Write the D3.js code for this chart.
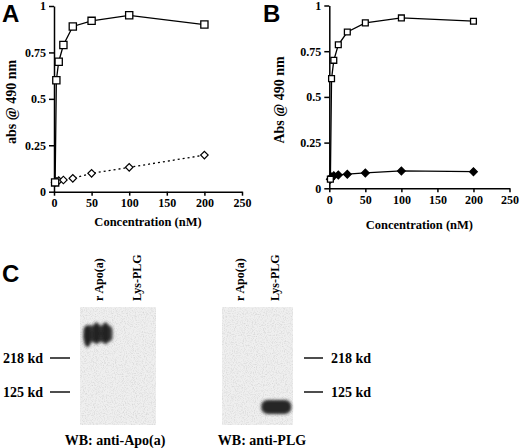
<!DOCTYPE html>
<html>
<head>
<meta charset="utf-8">
<script src="https://cdn.jsdelivr.net/npm/d3@7"></script>
<style>
  body { margin: 0; background: #fff; }
  svg text { font-family: "Liberation Serif", "Times New Roman", serif; font-weight: bold; fill: #000; }
  .letter { font-family: "Liberation Sans", Arial, sans-serif; font-size: 24px; }
  .axis path, .axis line { stroke: #000; stroke-width: 1.5; }
  .axis text { font-size: 12px; }
</style>
</head>
<body>
<div class="chart"></div>
<script>
// ---- data ----
var conc = [1.5, 3.125, 6.25, 12.5, 25, 50, 100, 200];
var absA_open = [0.05, 0.60, 0.70, 0.79, 0.89, 0.92, 0.95, 0.90];
var absA_diamond = [0.05, 0.055, 0.06, 0.063, 0.072, 0.099, 0.131, 0.197];
var absB_open = [0.05, 0.60, 0.70, 0.785, 0.855, 0.905, 0.932, 0.914];
var absB_filled = [0.05, 0.062, 0.069, 0.073, 0.077, 0.084, 0.095, 0.091];
var xTicks = [0, 50, 100, 150, 200, 250];
var yTicks = [0, 0.25, 0.5, 0.75, 1];
var yTickLabels = [`0`, `0.25`, `0.5`, `0.75`, `1`];

var lanes = [`r Apo(a)`, `Lys-PLG`];
var markerKd = [218, 125];
var markerLabels = [`218 kd`, `125 kd`];
var blotTitles = [`WB: anti-Apo(a)`, `WB: anti-PLG`];
var bandBlot = [0, 1];
var bandLane = [`r Apo(a)`, `Lys-PLG`];
var bandKd = [322, 98];

var fullWidth = 520, fullHeight = 448;

var svg = d3.select(`.chart`)
    .append(`svg`)
    .attr(`width`, fullWidth)
    .attr(`height`, fullHeight)
    .attr(`viewBox`, `0 0 ${fullWidth} ${fullHeight}`);

var defs = svg.append(`defs`);
var blur = defs.append(`filter`).attr(`id`, `blur`).attr(`x`, `-50%`).attr(`y`, `-50%`).attr(`width`, `200%`).attr(`height`, `200%`);
blur.append(`feGaussianBlur`).attr(`stdDeviation`, 1.8);

var grain = defs.append(`filter`).attr(`id`, `grain`);
grain.append(`feTurbulence`).attr(`type`, `fractalNoise`).attr(`baseFrequency`, 0.9).attr(`numOctaves`, 2).attr(`seed`, 4);
grain.append(`feColorMatrix`).attr(`type`, `matrix`)
    .attr(`values`, `0 0 0 0 0.55  0 0 0 0 0.55  0 0 0 0 0.55  0 0 0 -1.3 0.72`);
grain.append(`feComposite`).attr(`in2`, `SourceGraphic`).attr(`operator`, `in`);

// ---- line panels ----
function panel(opts) {
    var x = d3.scaleLinear().domain([0, 250]).range(opts.xr);
    var y = d3.scaleLinear().domain([0, 1]).range(opts.yr);
    var g = svg.append(`g`);

    g.append(`g`).attr(`class`, `axis`)
        .attr(`transform`, `translate(0,${opts.yr[0]})`)
        .call(d3.axisBottom(x).tickValues(xTicks).tickSize(4).tickSizeOuter(0).tickPadding(3).tickFormat(d3.format(`d`)));

    g.append(`g`).attr(`class`, `axis`)
        .attr(`transform`, `translate(${opts.xr[0]},0)`)
        .call(d3.axisLeft(y).tickValues(yTicks).tickSize(5).tickSizeOuter(0).tickPadding(3)
            .tickFormat((d, i) => yTickLabels[i]));

    g.selectAll(`.axis .domain`).attr(`fill`, `none`);

    g.append(`text`)
        .attr(`x`, (opts.xr[0] + opts.xr[1]) / 2)
        .attr(`y`, opts.titleY)
        .attr(`text-anchor`, `middle`)
        .style(`font-size`, `12.5px`)
        .text(`Concentration (nM)`);

    g.append(`text`)
        .attr(`transform`, `translate(${opts.ylabX},${(opts.yr[0] + opts.yr[1]) / 2 + 3}) rotate(-90)`)
        .attr(`text-anchor`, `middle`)
        .style(`font-size`, `14px`)
        .text(opts.ylab);

    g.append(`text`).attr(`class`, `letter`)
        .attr(`x`, opts.letterX).attr(`y`, 22)
        .text(opts.letter);

    var line = d3.line().x(d => x(d[0])).y(d => y(d[1]));

    // lower series first so the open squares sit on top
    var low = d3.zip(conc, opts.low);
    g.append(`path`).datum(low)
        .attr(`d`, line)
        .attr(`fill`, `none`)
        .attr(`stroke`, `#000`)
        .attr(`stroke-width`, 1.3)
        .attr(`stroke-dasharray`, opts.lowDash);

    g.selectAll(`.dia`).data(low).enter()
        .append(`path`)
        .attr(`d`, d3.symbol(d3.symbolSquare, opts.diaSize)())
        .attr(`transform`, d => `translate(${x(d[0])},${y(d[1])}) rotate(45)`)
        .attr(`fill`, opts.lowFill)
        .attr(`stroke`, `#000`)
        .attr(`stroke-width`, 1.2);

    var high = d3.zip(conc, opts.high);
    g.append(`path`).datum(high)
        .attr(`d`, line)
        .attr(`fill`, `none`)
        .attr(`stroke`, `#000`)
        .attr(`stroke-width`, 1.3);

    g.selectAll(`.sq`).data(high).enter()
        .append(`path`)
        .attr(`d`, d3.symbol(d3.symbolSquare, opts.sqSize)())
        .attr(`transform`, d => `translate(${x(d[0])},${y(d[1])})`)
        .attr(`fill`, `#fff`)
        .attr(`stroke`, `#000`)
        .attr(`stroke-width`, 1.3);
}

panel({
    xr: [54, 242], yr: [191.7, 6], titleY: 226, ylabX: 16, ylab: `abs @ 490 nm`,
    letter: `A`, letterX: 2, high: absA_open, low: absA_diamond,
    lowDash: `2,3`, lowFill: `#fff`, diaSize: 28, sqSize: 52
});

panel({
    xr: [329.3, 509.5], yr: [188.3, 5.5], titleY: 229, ylabX: 284, ylab: `Abs @ 490 nm`,
    letter: `B`, letterX: 263, high: absB_open, low: absB_filled,
    lowDash: null, lowFill: `#000`, diaSize: 30, sqSize: 34
});

// ---- western blots ----
var kdY = d3.scaleLog().domain([125, 218]).range([392, 358]);
var blots = [
    {x0: 80, x1: 156, titleX: 115, markX: [50, 70], labelX: 43, anchor: `end`},
    {x0: 222, x1: 293, titleX: 262, markX: [304, 323], labelX: 331, anchor: `start`}
];
var blotTop = 307, blotBottom = 425;

svg.append(`text`).attr(`class`, `letter`).attr(`x`, 2).attr(`y`, 282).text(`C`);

blots.forEach(function (b, bi) {
    var lx = d3.scalePoint().domain(lanes).range([b.x0, b.x1]).padding(0.5);
    var g = svg.append(`g`);

    g.append(`rect`)
        .attr(`x`, b.x0).attr(`y`, blotTop)
        .attr(`width`, b.x1 - b.x0).attr(`height`, blotBottom - blotTop)
        .attr(`fill`, `#efefef`);
    g.append(`rect`)
        .attr(`x`, b.x0).attr(`y`, blotTop)
        .attr(`width`, b.x1 - b.x0).attr(`height`, blotBottom - blotTop)
        .attr(`fill`, `#efefef`)
        .attr(`filter`, `url(#grain)`);

    bandBlot.forEach(function (blotIndex, k) {
        if (blotIndex !== bi) return;
        var cx = lx(bandLane[k]) - (bi === 0 ? 1.5 : -1);
        var cy = kdY(bandKd[k]);
        var bg = g.append(`g`).attr(`filter`, `url(#blur)`);
        if (bi === 0) {
            bg.append(`rect`).attr(`x`, cx - 14).attr(`y`, cy - 9).attr(`width`, 29).attr(`height`, 17)
                .attr(`rx`, 5).attr(`fill`, `#3a3a3a`);
            [-10, -1, 8].forEach(function (dx, j) {
                bg.append(`ellipse`).attr(`cx`, cx + dx).attr(`cy`, cy + (j === 0 ? 2 : -1))
                    .attr(`rx`, 4).attr(`ry`, 11).attr(`fill`, `#222`);
            });
        } else {
            bg.append(`rect`).attr(`x`, cx - 15).attr(`y`, cy - 7).attr(`width`, 30).attr(`height`, 14)
                .attr(`rx`, 6).attr(`fill`, `#262626`);
        }
    });

    g.selectAll(`.lane`).data(lanes).enter()
        .append(`text`)
        .attr(`transform`, d => `translate(${lx(d) + 4},301) rotate(-90)`)
        .style(`font-size`, `12px`)
        .text(d => d);

    g.selectAll(`.mk`).data(markerKd).enter()
        .append(`line`)
        .attr(`x1`, b.markX[0]).attr(`x2`, b.markX[1])
        .attr(`y1`, d => kdY(d)).attr(`y2`, d => kdY(d))
        .attr(`stroke`, `#000`).attr(`stroke-width`, 1.4);

    g.selectAll(`.mkl`).data(markerKd).enter()
        .append(`text`)
        .attr(`x`, b.labelX).attr(`y`, d => kdY(d))
        .attr(`dy`, `0.35em`)
        .attr(`text-anchor`, b.anchor)
        .style(`font-size`, `14px`)
        .text((d, i) => markerLabels[i]);

    g.append(`text`)
        .attr(`x`, b.titleX).attr(`y`, 445)
        .attr(`text-anchor`, `middle`)
        .style(`font-size`, `14px`)
        .text(blotTitles[bi]);
});
</script>
</body>
</html>
